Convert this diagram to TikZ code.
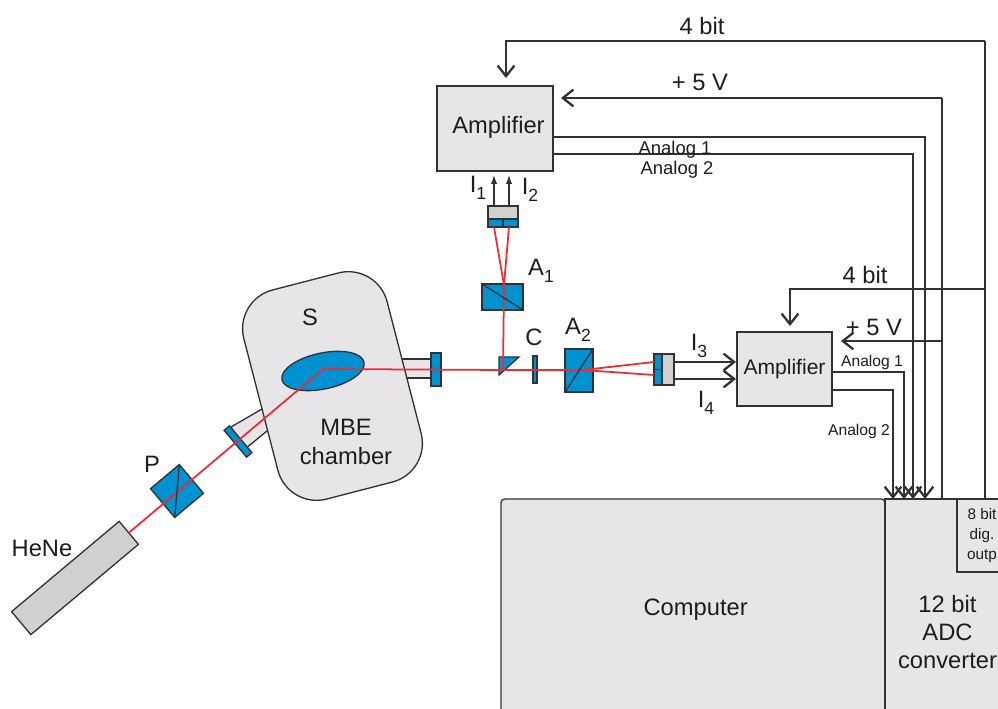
\documentclass[tikz,border=0pt]{standalone}
\usepackage{fontspec}
\setmainfont{Liberation Sans}
\usetikzlibrary{arrows.meta,shapes.geometric}
\definecolor{chamgrey}{RGB}{231,229,232}
\definecolor{partgrey}{RGB}{208,208,206}
\definecolor{optblue}{RGB}{0,146,208}
\definecolor{beamred}{RGB}{238,42,53}
\definecolor{linegrey}{RGB}{50,50,50}
\definecolor{textgrey}{RGB}{30,28,30}
\newcommand{\lsub}[1]{\raisebox{-0.3em}{\fontsize{10}{10}\selectfont #1}}
\begin{document}
\begin{tikzpicture}[
  x=0.02cm, y=-0.02cm,
  every node/.style={font=\fontsize{13.5}{16}\selectfont, text=textgrey, outer sep=0pt, inner sep=0pt},
  box/.style={draw=linegrey, line width=0.75pt, fill=chamgrey, align=center},
  part/.style={draw=linegrey, line width=0.75pt, fill=partgrey},
  optic/.style={draw=linegrey, line width=0.75pt, fill=optblue},
  tube/.style={draw=linegrey, line width=0.75pt, fill=chamgrey},
  wire/.style={draw=linegrey, line width=0.65pt},
  barb/.style={wire, -{Straight Barb[length=6pt,width=9.5pt,line width=1.3pt]}},
  small/.style={wire, -{Latex[length=5pt,width=3.5pt]}},
  beam/.style={draw=beamred, line width=1pt},
  split/.style={draw=linegrey, line width=0.7pt},
  tiny lab/.style={font=\fontsize{10.5}{12}\selectfont},
  side lab/.style={font=\fontsize{8.9}{11}\selectfont}
]
\clip (0,0) rectangle (998,709);
% vacuum chamber
\draw[tube] (231,427) -- (262,409) -- (275,425) -- (267,431) -- (245,449) -- cycle;
\draw[tube] (398,359) -- (431,359) -- (431,378) -- (398,378) -- cycle;
\node[box, rotate=14.5, minimum width=2.96cm, minimum height=4.32cm, rounded corners=0.8cm] (cham) at (332.5,386) {};
\node[optic, ellipse, rotate=12, minimum width=1.68cm, minimum height=0.72cm] (smpl) at (323,371) {};
\node[optic, rotate=40, minimum width=0.14cm, minimum height=0.7cm] (winl) at (238,441.5) {};
\node[optic, minimum width=0.2cm, minimum height=0.66cm] (winr) at (436,369.5) {};
% optics
\node[part, rotate=40, minimum width=2.81cm, minimum height=0.6cm] (hene) at (75,578) {};
\node[optic, rotate=40, minimum width=0.752cm, minimum height=0.752cm] (pol) at (177,491) {};
\node[optic, minimum width=0.82cm, minimum height=0.52cm] (ana1) at (502.5,297) {};
\node[optic, minimum width=0.56cm, minimum height=0.86cm] (ana2) at (579,370.5) {};
\node[optic, minimum width=0.08cm, minimum height=0.54cm] (comp) at (535,369.5) {};
\draw[optic] (499,357) -- (519,357) -- (499,375) -- cycle;
% detectors
\node[part, minimum width=0.6cm, minimum height=0.26cm] (detag) at (503,212.5) {};
\node[optic, minimum width=0.6cm, minimum height=0.16cm] (detab) at (503,223) {};
\node[part, minimum width=0.24cm, minimum height=0.62cm] (detbg) at (668,369.5) {};
\node[optic, minimum width=0.16cm, minimum height=0.62cm] (detbb) at (658,369.5) {};
\draw[split] (detab.north) -- (detab.south);
\draw[split] (detbb.west) -- (detbb.east);
% electronics
\node[box, minimum width=2.32cm, minimum height=1.7cm, text height=10pt, text depth=4.6pt] (amptop) at (495,128.5) {\hspace{4pt}Amplifier};
\node[box, minimum width=1.9cm, minimum height=1.48cm, text height=9.4pt, text depth=3.2pt, font=\fontsize{12}{14}\selectfont] (ampside) at (784.5,369) {Amplifier};
\node[box, minimum width=7.68cm, minimum height=4.44cm, rounded corners=2pt] (comput) at (693,610) {\hspace{3pt}Computer};
\node[box, minimum width=2.5cm, minimum height=5.32cm] (adc) at (947.5,632) {12 bit\\ADC\\converter};
\node[box, minimum width=1cm, minimum height=1.46cm, font=\fontsize{8.7}{11.5}\selectfont] (dig) at (982,535.5) {8 bit\\dig.\\outp};
% beam
\coordinate (spot) at (323,369);
\coordinate (turn) at (503,370);
\coordinate (fork) at (504,285);
\coordinate (cross) at (583,370);
\coordinate (beama) at (494,227);
\coordinate (beamb) at (509,227);
\coordinate (beamc) at (654,362);
\coordinate (beamd) at (654,375);
\draw[beam] (hene.east) -- (spot) -- (turn) -- (cross);
\draw[beam] (turn) -- (fork);
\foreach \dst in {beama,beamb}
  \draw[beam] (fork) -- (\dst);
\foreach \dst in {beamc,beamd}
  \draw[beam] (cross) -- (\dst);
\draw[split] (pol.north east) -- (pol.south west);
\draw[split] (ana1.north west) -- (ana1.south east);
\draw[split] (ana2.south west) -- (ana2.north east);
% signal lines
\coordinate (ione) at (494,175);
\coordinate (itwo) at (509,175);
\coordinate (ithr) at (736,362);
\coordinate (ifou) at (736,379);
\draw[small] (ione |- detag.north) -- (ione);
\draw[small] (itwo |- detag.north) -- (itwo);
\draw[barb] (detbg.east |- ithr) -- (ithr);
\draw[barb] (detbg.east |- ifou) -- (ifou);
\coordinate (bita) at (985,41);
\coordinate (ina) at (506,78);
\coordinate (pwra) at (942,98);
\coordinate (pina) at (561,98);
\coordinate (bitb) at (985,289);
\coordinate (inb) at (790,326);
\coordinate (pwrb) at (942,341);
\coordinate (pinb) at (841,341);
\coordinate (ana) at (925,137);
\coordinate (anb) at (913,154);
\coordinate (anc) at (904,372);
\coordinate (and) at (893,390);
\draw[wire] (bita |- adc.north) -- (bita);
\draw[barb] (bita) -| (ina);
\draw[wire] (pwra |- adc.north) -- (pwra);
\draw[barb] (pwra) -- (pina);
\draw[barb] (bitb) -| (inb);
\draw[barb] (pwrb) -- (pinb);
\foreach \dst in {ana,anb}
  \draw[barb] (amptop.east |- \dst) -- (\dst) -- (\dst |- adc.north);
\foreach \dst in {anc,and}
  \draw[barb] (ampside.east |- \dst) -- (\dst) -- (\dst |- adc.north);
% labels
\node (lbit) at (702,26) {4 bit};
\node (lpwr) at (700,82) {+ 5 V};
\node (lbitb) at (865,275) {4 bit};
\node (lpwrb) at (874,327) {+ 5 V};
\node[tiny lab] (lana) at (675,150) {Analog 1};
\node[tiny lab] (lanb) at (677,170) {Analog 2};
\node[side lab] (lanc) at (872,362) {Analog 1};
\node[side lab] (land) at (859,431) {Analog 2};
\node (lione) at (478,188) {I\lsub{1}};
\node (litwo) at (530,190) {I\lsub{2}};
\node (lithr) at (699,346) {I\lsub{3}};
\node (lifou) at (706,403) {I\lsub{4}};
\node (lanaa) at (541,271) {A\lsub{1}};
\node (lanab) at (578,330) {A\lsub{2}};
\node (lcomp) at (534,337) {C};
\node (lsmpl) at (310,317) {S};
\node[align=center] (lcham) at (346,442) {MBE\\chamber};
\node (lpol) at (152,464) {P};
\node (lhene) at (42,548) {HeNe};
\end{tikzpicture}
\end{document}
